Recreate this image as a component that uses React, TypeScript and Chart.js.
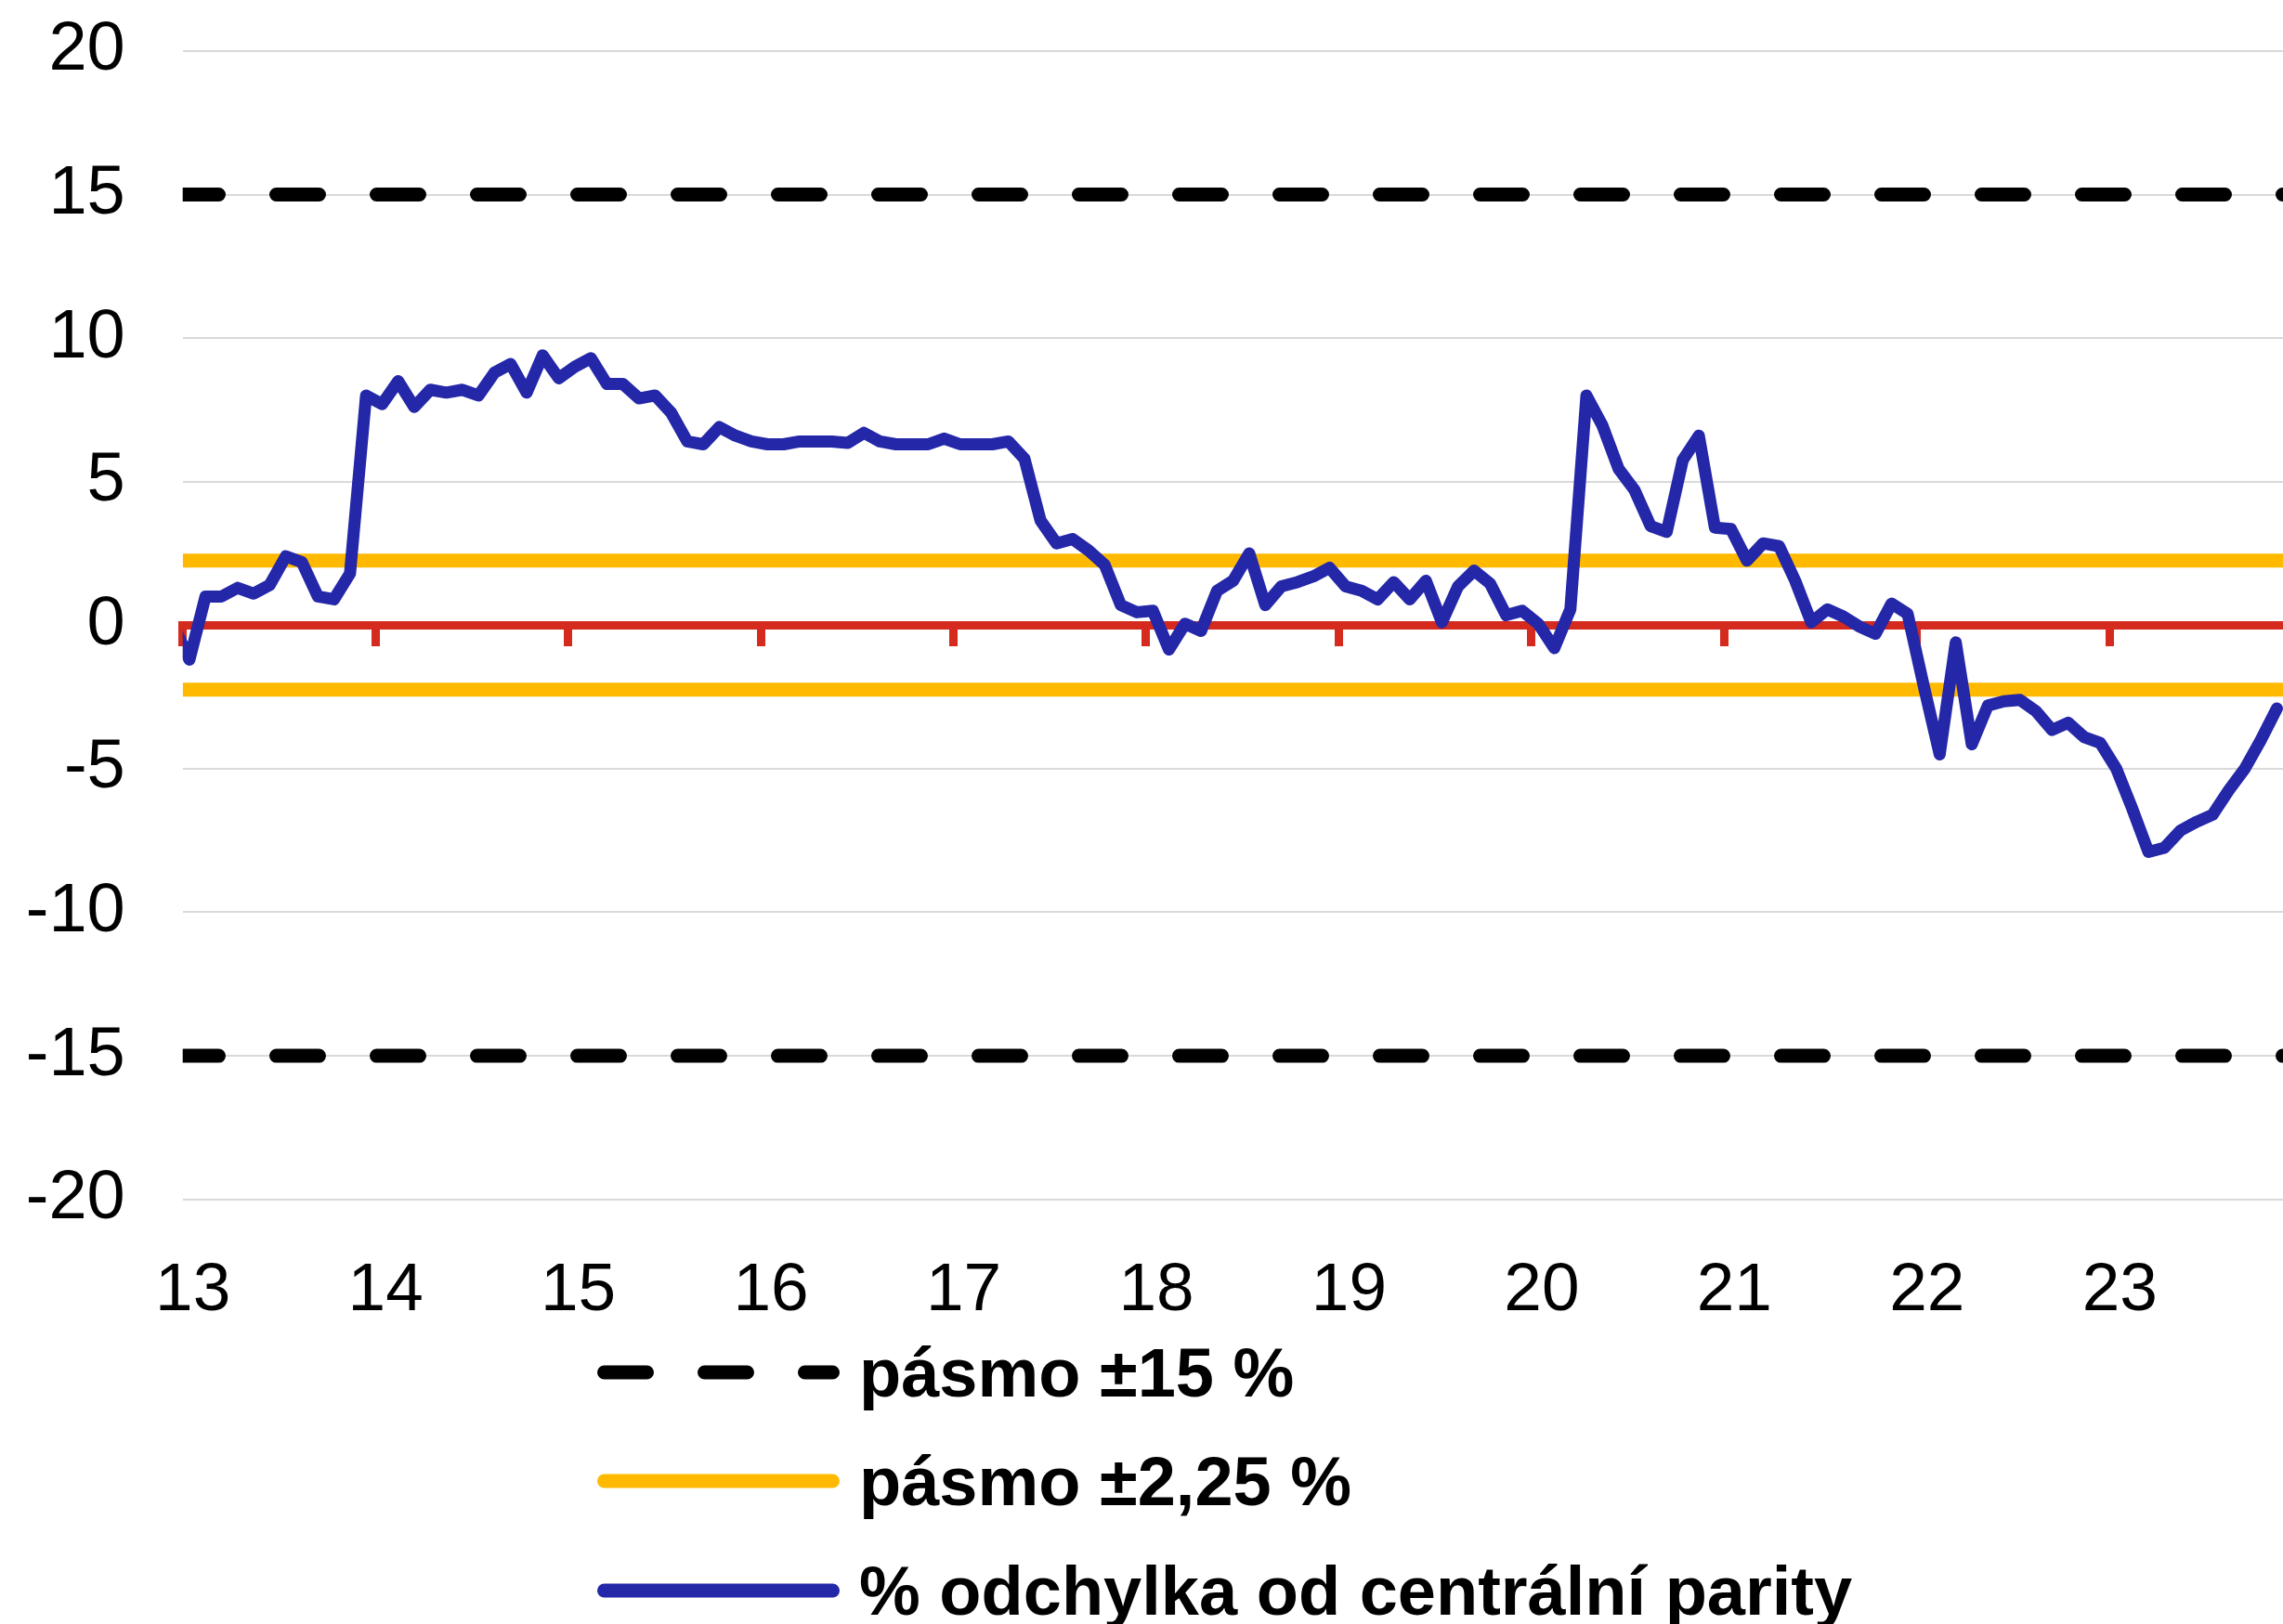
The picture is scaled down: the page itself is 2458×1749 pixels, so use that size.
import React, { useEffect, useRef } from 'react';
import { Chart, registerables } from 'chart.js';

Chart.register(...registerables);

// ---------- data ----------
// x axis: months counted from 1 Jan 2013; year tick labels
const YEAR_LABELS = ['13', '14', '15', '16', '17', '18', '19', '20', '21', '22', '23'];
const MONTHS_PER_YEAR = 12;
const X_MIN = 0;
const X_MAX = 130.8;
// monthly observations are plotted a little after the month start
const POINT_POSITION_IN_MONTH = 0.42;
// first observation is Dec 2012 (month index -1)
const FIRST_MONTH_INDEX = -1;

// % deviation from central parity, monthly, Dec 2012 .. Nov 2023
const DEVIATION = [
  0.0,
  // 2013
  -1.2, 1.0, 1.0, 1.3, 1.1, 1.4, 2.4, 2.2, 1.0, 0.9, 1.8, 8.0,
  // 2014
  7.7, 8.5, 7.6, 8.2, 8.1, 8.2, 8.0, 8.8, 9.1, 8.1, 9.4, 8.6,
  // 2015
  9.0, 9.3, 8.4, 8.4, 7.9, 8.0, 7.4, 6.4, 6.3, 6.9, 6.6, 6.4,
  // 2016
  6.3, 6.3, 6.4, 6.4, 6.4, 6.35, 6.7, 6.4, 6.3, 6.3, 6.3, 6.5,
  // 2017
  6.3, 6.3, 6.3, 6.4, 5.8, 3.65, 2.85, 3.0, 2.6, 2.1, 0.7, 0.45,
  // 2018
  0.5, -0.85, 0.05, -0.2, 1.2, 1.55, 2.5, 0.7, 1.35, 1.5, 1.7, 2.0,
  // 2019
  1.35, 1.2, 0.9, 1.5, 0.9, 1.55, 0.1, 1.35, 1.9, 1.45, 0.35, 0.5,
  // 2020
  0.05, -0.8, 0.55, 8.0, 6.95, 5.45, 4.7, 3.45, 3.25, 5.75, 6.6, 3.4,
  // 2021
  3.35, 2.25, 2.85, 2.75, 1.55, 0.1, 0.55, 0.3, -0.05, -0.3, 0.75, 0.4,
  // 2022
  -2.1, -4.5, -0.6, -4.15, -2.8, -2.65, -2.6, -3.0, -3.65, -3.4, -3.9, -4.1,
  // 2023
  -5.0, -6.4, -7.9, -7.75, -7.15, -6.85, -6.6, -5.75, -5.0, -4.0, -2.9,
];

const WIDE_BAND = [15, -15];
const NARROW_BAND = [2.25, -2.25];

const Y_MIN = -20;
const Y_MAX = 20;
const Y_STEP = 5;

const LEGEND_LABELS = ['pásmo ±15 %', 'pásmo ±2,25 %', '% odchylka od centrální parity'];

// ---------- styles ----------
const BLUE = '#2427A8';
const ORANGE = '#FFBA00';
const RED = '#D52B1E';
const BLACK = '#000000';
const GRID = '#D9D9D9';
const FONT = "'Liberation Sans', Arial, Helvetica, sans-serif";

const CANVAS_W = 2458;
const CANVAS_H = 1440;
const PLOT_LEFT = 196.7;
const PLOT_TOP = 54.9;
const PLOT_BOTTOM = 1291.7;

function yearTicks() {
  return YEAR_LABELS.map((_, k) => ({ value: k * MONTHS_PER_YEAR }));
}

function bandData(v: number) {
  return [
    { x: X_MIN, y: v },
    { x: X_MAX, y: v },
  ];
}

function LegendLine({ kind }: { kind: 'dash' | 'orange' | 'blue' }) {
  const color = kind === 'dash' ? BLACK : kind === 'orange' ? ORANGE : BLUE;
  return (
    <svg width={261} height={80} style={{ display: 'block', flex: '0 0 auto' }}>
      <line
        x1={7.5}
        y1={40}
        x2={253.5}
        y2={40}
        stroke={color}
        strokeWidth={15}
        strokeLinecap="round"
        strokeDasharray={kind === 'dash' ? '46 62' : undefined}
      />
    </svg>
  );
}

export default function App() {
  const canvasRef = useRef<HTMLCanvasElement | null>(null);

  useEffect(() => {
    const canvas = canvasRef.current;
    if (!canvas) return;

    const blueData = DEVIATION.map((v, i) => ({
      x: i + FIRST_MONTH_INDEX + POINT_POSITION_IN_MONTH,
      y: v,
    }));

    const chart = new Chart(canvas, {
      type: 'line',
      data: {
        datasets: [
          {
            label: LEGEND_LABELS[2],
            data: blueData,
            borderColor: BLUE,
            borderWidth: 13,
            borderJoinStyle: 'round',
            borderCapStyle: 'round',
            pointRadius: 0,
            tension: 0,
            xAxisID: 'x',
            yAxisID: 'y',
          },
          ...NARROW_BAND.map((v) => ({
            label: LEGEND_LABELS[1],
            data: bandData(v),
            borderColor: ORANGE,
            borderWidth: 15,
            pointRadius: 0,
            xAxisID: 'x',
            yAxisID: 'y',
          })),
          ...WIDE_BAND.map((v) => ({
            label: LEGEND_LABELS[0],
            data: bandData(v),
            borderColor: BLACK,
            borderWidth: 15,
            borderDash: [46, 62],
            borderDashOffset: 7.2,
            borderCapStyle: 'round' as const,
            pointRadius: 0,
            xAxisID: 'x',
            yAxisID: 'y',
          })),
        ],
      },
      options: {
        animation: false,
        responsive: false,
        maintainAspectRatio: false,
        devicePixelRatio: 1,
        parsing: false as any,
        normalized: true,
        layout: { padding: { top: PLOT_TOP, left: 0, right: 0, bottom: 0 } },
        plugins: {
          legend: { display: false },
          tooltip: { enabled: false },
          title: { display: false },
        },
        scales: {
          x: {
            type: 'linear',
            position: 'bottom',
            min: X_MIN,
            max: X_MAX,
            grid: { display: false },
            border: { display: false },
            afterBuildTicks: (s: any) => {
              s.ticks = yearTicks();
            },
            afterFit: (s: any) => {
              s.height = CANVAS_H - PLOT_BOTTOM;
              s.paddingLeft = 0;
              s.paddingRight = 0;
            },
            ticks: {
              autoSkip: false,
              maxRotation: 0,
              minRotation: 0,
              padding: 47,
              labelOffset: 11,
              color: BLACK,
              font: { family: FONT, size: 73 },
              callback: (v: any) => YEAR_LABELS[Math.round(Number(v) / MONTHS_PER_YEAR)] ?? '',
            },
          },
          x2: {
            type: 'linear',
            axis: 'x',
            position: { y: 0 },
            min: X_MIN,
            max: X_MAX,
            afterBuildTicks: (s: any) => {
              s.ticks = yearTicks();
            },
            ticks: { display: false },
            grid: {
              display: true,
              drawOnChartArea: false,
              drawTicks: true,
              tickLength: 18,
              tickWidth: 9,
              tickColor: RED,
              lineWidth: 1,
              color: RED,
            },
            border: { display: true, color: RED, width: 9 },
          } as any,
          y: {
            type: 'linear',
            position: 'left',
            min: Y_MIN,
            max: Y_MAX,
            afterFit: (s: any) => {
              s.width = PLOT_LEFT;
              s.paddingTop = 0;
              s.paddingBottom = 0;
            },
            grid: {
              color: GRID,
              lineWidth: 2,
              drawTicks: false,
            },
            border: { display: false },
            ticks: {
              stepSize: Y_STEP,
              padding: 62,
              color: BLACK,
              font: { family: FONT, size: 74 },
            },
          },
        },
      } as any,
    });

    return () => {
      chart.destroy();
    };
  }, []);

  const legendRows: { kind: 'dash' | 'orange' | 'blue'; label: string; center: number }[] = [
    { kind: 'dash', label: LEGEND_LABELS[0], center: 1478 },
    { kind: 'orange', label: LEGEND_LABELS[1], center: 1595 },
    { kind: 'blue', label: LEGEND_LABELS[2], center: 1713 },
  ];

  return (
    <div
      style={{
        position: 'fixed',
        left: 0,
        top: 0,
        width: CANVAS_W,
        height: 1749,
        background: '#ffffff',
        overflow: 'hidden',
      }}
    >
      <canvas
        ref={canvasRef}
        width={CANVAS_W}
        height={CANVAS_H}
        style={{ position: 'absolute', left: 0, top: 0, width: CANVAS_W, height: CANVAS_H, display: 'block' }}
      />
      {legendRows.map((r) => (
        <div
          key={r.kind}
          style={{
            position: 'absolute',
            left: 643,
            top: r.center - 40,
            height: 80,
            display: 'flex',
            alignItems: 'center',
            whiteSpace: 'nowrap',
          }}
        >
          <LegendLine kind={r.kind} />
          <span
            style={{
              marginLeft: 21,
              fontFamily: FONT,
              fontWeight: 'bold',
              fontSize: 74,
              color: BLACK,
              lineHeight: 'normal',
            }}
          >
            {r.label}
          </span>
        </div>
      ))}
    </div>
  );
}
